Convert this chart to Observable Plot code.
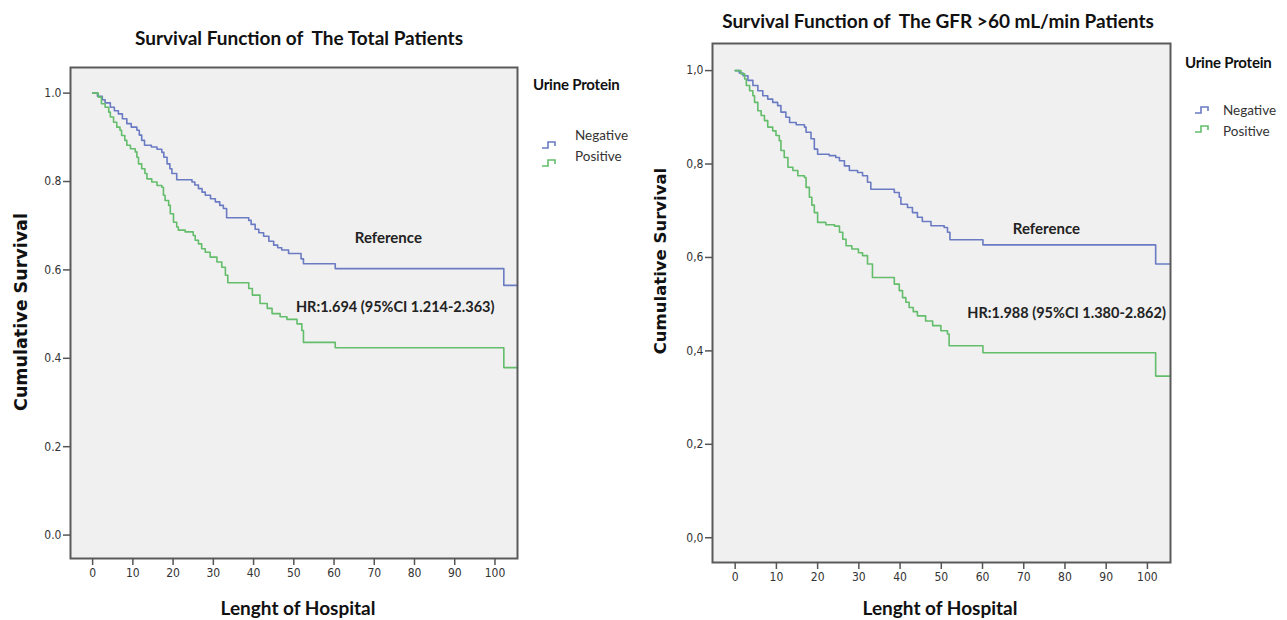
<!DOCTYPE html>
<html>
<head>
<meta charset="utf-8">
<script src="https://cdn.jsdelivr.net/npm/d3@7"></script>
<script src="https://cdn.jsdelivr.net/npm/@observablehq/plot@0.6"></script>
<style>
  html, body { margin: 0; padding: 0; background: #fff; }
  #page { position: relative; width: 1287px; height: 620px; overflow: hidden; font-family: Lato, "Open Sans", sans-serif; color: #111; }
  .abs { position: absolute; white-space: pre; }
  .title { font-weight: 700; font-size: 19px; transform: translate(-50%, -50%); }
  .xlabel { font-weight: 700; font-size: 19px; transform: translate(-50%, -50%); }
  .ylabel { font-family: "DejaVu Sans", sans-serif; font-weight: 700; font-size: 17.5px; transform: translate(-50%, -50%) rotate(-90deg); }
  .legtitle { font-weight: 700; font-size: 15px; transform: translate(0, -50%); letter-spacing: -0.2px; }
  .legitem { font-size: 13.5px; color: #333; transform: translate(0, -50%); }
  .plotbox { position: absolute; top: 0; }
</style>
</head>
<body>
<div id="page"></div>
<script>
// ---------- data ----------
const seriesNames = ["Negative", "Positive"];
const seriesColors = ["#6a7bc3", "#63bd6b"];
const xTicks = [0, 10, 20, 30, 40, 50, 60, 70, 80, 90, 100];
const yTicks = [0, 0.2, 0.4, 0.6, 0.8, 1.0];

// Total patients
const totalNegTime = [0, 1.2, 2.4, 3.1, 4.4, 5.4, 6.4, 7.4, 8.5, 9.6, 11.0, 11.6, 12.2, 12.9, 14.6, 16.0, 17.2, 17.7, 18.5, 19.2, 19.7, 20.9, 24.7, 25.4, 26.3, 27.2, 28.0, 29.3, 30.5, 31.6, 32.5, 33.3, 38.8, 39.4, 40.4, 41.3, 42.5, 43.8, 45.0, 46.0, 47.0, 48.7, 51.8, 52.4, 60.3, 102.2, 105.6];
const totalNegSurv = [1.000, 0.993, 0.985, 0.978, 0.968, 0.960, 0.953, 0.942, 0.931, 0.923, 0.916, 0.905, 0.893, 0.882, 0.878, 0.873, 0.866, 0.855, 0.840, 0.829, 0.818, 0.804, 0.799, 0.792, 0.784, 0.776, 0.769, 0.761, 0.754, 0.746, 0.739, 0.718, 0.712, 0.703, 0.692, 0.684, 0.676, 0.665, 0.656, 0.650, 0.645, 0.637, 0.625, 0.614, 0.603, 0.565, 0.565];
const totalPosTime = [0, 1.4, 2.2, 3.1, 4.0, 4.4, 5.2, 6.0, 6.8, 7.2, 8.0, 8.5, 9.4, 10.6, 11.0, 11.4, 12.2, 13.0, 13.5, 14.7, 16.0, 17.2, 17.6, 18.0, 18.9, 19.3, 20.1, 20.9, 21.3, 23.0, 25.0, 25.5, 26.3, 27.1, 28.0, 29.2, 30.9, 32.1, 33.0, 33.6, 38.8, 39.7, 41.6, 43.4, 44.6, 46.6, 48.3, 50.8, 52.0, 52.4, 60.3, 102.2, 105.6];
const totalPosSurv = [1.000, 0.991, 0.976, 0.968, 0.957, 0.946, 0.934, 0.923, 0.916, 0.904, 0.893, 0.882, 0.874, 0.867, 0.855, 0.840, 0.829, 0.818, 0.806, 0.799, 0.791, 0.787, 0.769, 0.757, 0.746, 0.727, 0.708, 0.697, 0.690, 0.686, 0.678, 0.667, 0.659, 0.648, 0.640, 0.629, 0.618, 0.606, 0.588, 0.571, 0.558, 0.543, 0.524, 0.513, 0.501, 0.494, 0.488, 0.478, 0.463, 0.436, 0.424, 0.379, 0.379];

// GFR > 60 patients
const gfrNegTime = [0, 1.0, 1.9, 3.1, 4.3, 5.5, 6.7, 7.9, 9.1, 10.3, 11.1, 12.3, 13.2, 14.8, 16.8, 17.2, 18.4, 19.2, 20.0, 22.8, 24.4, 25.3, 26.5, 27.7, 29.7, 30.9, 32.1, 32.9, 38.6, 39.8, 40.2, 41.8, 43.0, 44.2, 45.4, 47.5, 50.7, 51.5, 52.1, 60.1, 102.0, 105.6];
const gfrNegSurv = [1.000, 0.995, 0.989, 0.979, 0.968, 0.957, 0.946, 0.939, 0.932, 0.925, 0.911, 0.900, 0.889, 0.884, 0.879, 0.868, 0.854, 0.832, 0.821, 0.818, 0.814, 0.807, 0.796, 0.786, 0.782, 0.775, 0.761, 0.746, 0.739, 0.729, 0.714, 0.707, 0.696, 0.686, 0.677, 0.668, 0.664, 0.654, 0.638, 0.627, 0.586, 0.586];
const gfrPosTime = [0, 1.4, 2.3, 2.7, 3.5, 4.3, 4.7, 5.5, 6.3, 7.1, 7.9, 9.1, 9.9, 10.7, 11.1, 11.9, 12.8, 14.0, 15.2, 16.8, 17.2, 18.0, 18.6, 19.2, 20.0, 22.0, 24.1, 25.3, 26.1, 26.9, 28.3, 29.9, 30.9, 32.1, 33.3, 38.6, 39.8, 40.6, 41.4, 42.2, 43.2, 44.2, 46.2, 47.9, 49.9, 51.5, 51.9, 60.1, 102.0, 105.6];
const gfrPosSurv = [1.000, 0.993, 0.982, 0.968, 0.957, 0.946, 0.932, 0.914, 0.904, 0.893, 0.879, 0.871, 0.861, 0.850, 0.829, 0.814, 0.793, 0.786, 0.775, 0.771, 0.750, 0.729, 0.712, 0.696, 0.675, 0.670, 0.667, 0.654, 0.639, 0.625, 0.618, 0.610, 0.604, 0.586, 0.557, 0.543, 0.529, 0.514, 0.504, 0.493, 0.484, 0.475, 0.464, 0.454, 0.443, 0.436, 0.411, 0.396, 0.346, 0.346];

// text
const titles = ["Survival Function of  The Total Patients", "Survival Function of  The GFR >60 mL/min Patients"];
const xLabel = "Lenght of Hospital";
const yLabel = "Cumulative Survival";
const legendTitle = "Urine Protein";
const refLabel = "Reference";
const hrLabels = ["HR:1.694 (95%CI 1.214-2.363)", "HR:1.988 (95%CI 1.380-2.862)"];

// ---------- build ----------
function rows(times, survs, name) {
  return times.map((t, i) => ({time: t, surv: survs[i], group: name}));
}
const totalData = [...rows(totalNegTime, totalNegSurv, "Negative"), ...rows(totalPosTime, totalPosSurv, "Positive")];
const gfrData = [...rows(gfrNegTime, gfrNegSurv, "Negative"), ...rows(gfrPosTime, gfrPosSurv, "Positive")];

const tickFont = "'Liberation Sans Narrow', 'DejaVu Sans Condensed', 'Roboto Condensed', sans-serif";

function panel(data, opts) {
  return Plot.plot({
    width: opts.width, height: opts.height,
    marginLeft: opts.ml, marginRight: opts.mr, marginTop: opts.mt, marginBottom: opts.mb,
    style: {fontFamily: tickFont, fontSize: "12px", color: "#333", background: "transparent", overflow: "visible"},
    x: {domain: [-5.5, 105.6], ticks: xTicks, tickSize: 7, tickPadding: 3, label: null},
    y: {domain: [-0.053, 1.058], ticks: yTicks, tickSize: 7, tickPadding: 2, label: null, tickFormat: opts.fmt},
    color: {domain: seriesNames, range: seriesColors},
    marks: [
      Plot.frame({fill: "#f0f0f0", stroke: null}),
      Plot.line(data, {x: "time", y: "surv", z: "group", stroke: "group", curve: "step-after", strokeWidth: 1.6}),
      Plot.text([refLabel], {x: [opts.refPos[0]], y: [opts.refPos[1]], text: d => d, fontFamily: "Lato, sans-serif", fontWeight: 700, fontSize: 15, fill: "#222"}),
      Plot.text([opts.hr], {x: [opts.hrPos[0]], y: [opts.hrPos[1]], text: d => d, fontFamily: "Lato, sans-serif", fontWeight: 700, fontSize: 14.5, fill: "#222"}),
      Plot.frame({stroke: "#5a5a5a", strokeWidth: 2}),
      Plot.axisX({ticks: xTicks, tickSize: 7, tickPadding: 3, stroke: "#555", strokeWidth: 1.5}),
      Plot.axisY({ticks: yTicks, tickSize: 7, tickPadding: 2, tickFormat: opts.fmt, stroke: "#555", strokeWidth: 1.5})
    ]
  });
}

const page = document.getElementById("page");

const left = panel(totalData, {width: 530, height: 600, ml: 70, mr: 13, mt: 67, mb: 42,
  fmt: d3.format(".1f"), refPos: [73.5, 0.671], hr: hrLabels[0], hrPos: [75.2, 0.515]});
left.classList.add("plotbox"); left.style.left = "0px";
page.appendChild(left);

const right = panel(gfrData, {width: 540, height: 600, ml: 69, mr: 13, mt: 43, mb: 38,
  fmt: d => d3.format(".1f")(d).replace(".", ","), refPos: [75.5, 0.661], hr: hrLabels[1], hrPos: [80.4, 0.481]});
right.classList.add("plotbox"); right.style.left = "643px";
page.appendChild(right);

function addText(cls, txt, x, y, extra) {
  const d = document.createElement("div");
  d.className = "abs " + cls;
  d.textContent = txt;
  d.style.left = x + "px"; d.style.top = y + "px";
  if (extra) Object.assign(d.style, extra);
  page.appendChild(d);
}
function addSymbol(x, y, color) {
  const ns = "http://www.w3.org/2000/svg";
  const s = document.createElementNS(ns, "svg");
  s.setAttribute("width", 16); s.setAttribute("height", 10);
  s.style.position = "absolute"; s.style.left = x + "px"; s.style.top = (y - 5) + "px";
  const p = document.createElementNS(ns, "path");
  p.setAttribute("d", "M0,8 H6 V2 H13 V6");
  p.setAttribute("fill", "none"); p.setAttribute("stroke", color); p.setAttribute("stroke-width", "1.6");
  s.appendChild(p); page.appendChild(s);
}

// left panel text
addText("title", titles[0], 299, 37);
addText("xlabel", xLabel, 298, 607);
addText("ylabel", yLabel, 21, 312);
addText("legtitle", legendTitle, 533, 84);
addText("legitem", seriesNames[0], 575, 135);
addText("legitem", seriesNames[1], 575, 156);
addSymbol(542, 145, seriesColors[0]);
addSymbol(542, 163, seriesColors[1]);

// right panel text
addText("title", titles[1], 938, 20);
addText("xlabel", xLabel, 940, 607);
addText("ylabel", yLabel, 660, 261, {fontSize: "16.5px"});
addText("legtitle", legendTitle, 1185, 62);
addText("legitem", seriesNames[0], 1223, 110);
addText("legitem", seriesNames[1], 1223, 131);
addSymbol(1195, 110, seriesColors[0]);
addSymbol(1195, 129, seriesColors[1]);
</script>
</body>
</html>
